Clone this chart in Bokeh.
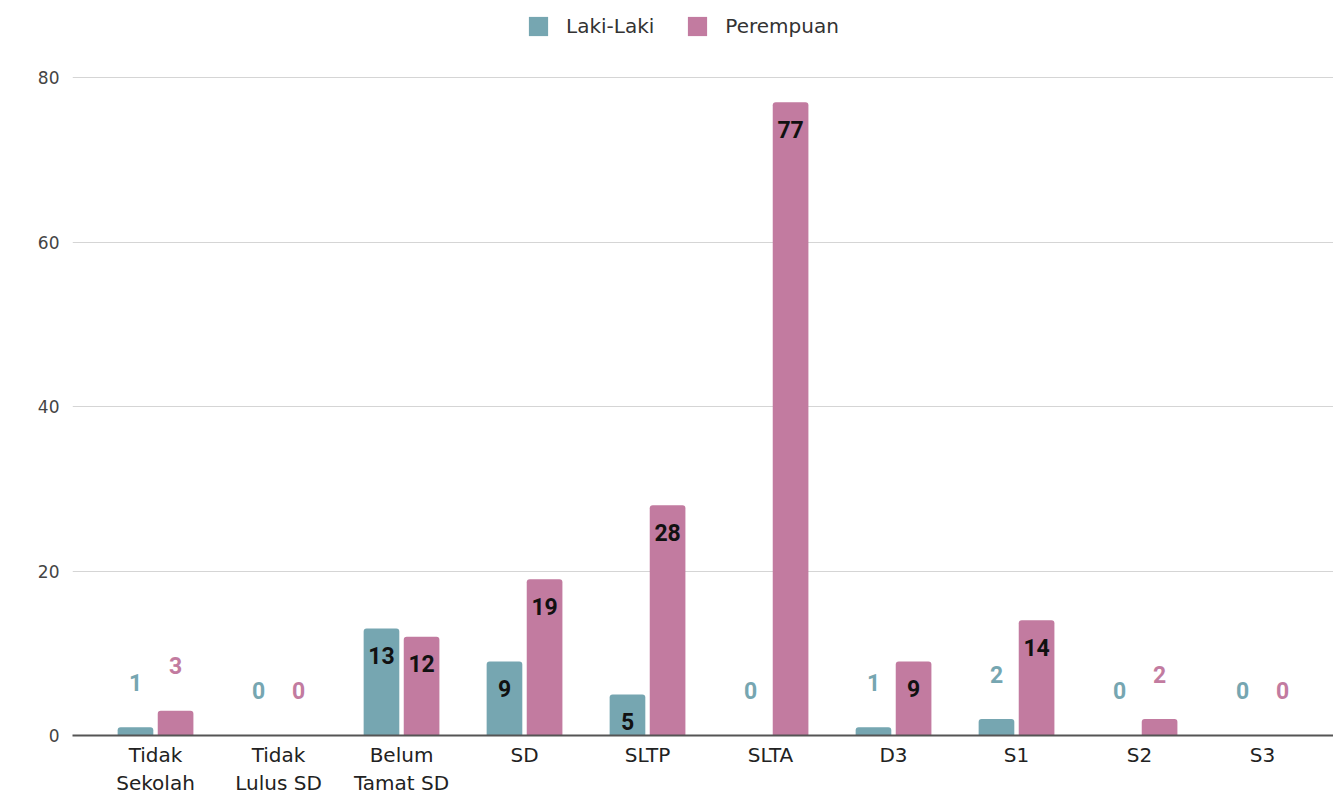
from bokeh.plotting import figure
from bokeh.models import (Range1d, FixedTicker, Legend, LegendItem, ColumnDataSource)
from bokeh.core.properties import value
from bokeh.embed import file_html
from bokeh.resources import INLINE

categories = ["Tidak Sekolah", "Tidak Lulus SD", "Belum Tamat SD", "SD", "SLTP",
              "SLTA", "D3", "S1", "S2", "S3"]
tick_labels = ["Tidak\nSekolah", "Tidak\nLulus SD", "Belum\nTamat SD", "SD", "SLTP",
               "SLTA", "D3", "S1", "S2", "S3"]
laki = [1, 0, 13, 9, 5, 0, 1, 2, 0, 0]
perempuan = [3, 0, 12, 19, 28, 77, 9, 14, 2, 0]
y_ticks = [0, 20, 40, 60, 80]

TEAL = "#76a6b1"
PINK = "#c27ba0"

p = figure(frame_width=1261, frame_height=726, output_backend="svg",
           toolbar_location=None,
           x_range=Range1d(-0.675, 9.577), y_range=Range1d(0, 88.27),
           min_border_left=72, min_border_right=0, min_border_top=9,
           min_border_bottom=50)
p.outline_line_color = None
p.background_fill_color = "white"

xs = list(range(len(categories)))
off = 0.163
bw = 0.29

src_l = ColumnDataSource(dict(x=[x - off for x in xs], top=laki))
src_p = ColumnDataSource(dict(x=[x + off for x in xs], top=perempuan))
r_l = p.vbar(x="x", top="top", width=bw, source=src_l, fill_color=TEAL,
             line_color=None, border_radius=(3, 3, 0, 0))
r_p = p.vbar(x="x", top="top", width=bw, source=src_p, fill_color=PINK,
             line_color=None, border_radius=(3, 3, 0, 0))

# data labels
def add_labels(xpos, vals, color):
    inside = dict(x=[], y=[], t=[])
    above = dict(x=[], y=[], t=[])
    for x, v in zip(xpos, vals):
        d = inside if v >= 5 else above
        d["x"].append(x)
        d["y"].append(v)
        d["t"].append(str(v))
    p.text(x="x", y="y", text="t", source=ColumnDataSource(inside),
           y_offset=27, text_align="center", text_baseline="middle",
           text_font=value("Roboto"), text_font_style="bold",
           text_font_size="23px", text_color="#111111")
    p.text(x="x", y="y", text="t", source=ColumnDataSource(above),
           y_offset=-45, text_align="center", text_baseline="middle",
           text_font=value("Roboto"), text_font_style="bold",
           text_font_size="23px", text_color=color)

add_labels([x - off for x in xs], laki, TEAL)
add_labels([x + off for x in xs], perempuan, PINK)

# axes
p.xaxis.ticker = FixedTicker(ticks=xs)
p.xaxis.major_label_overrides = {i: lab for i, lab in enumerate(tick_labels)}
p.xaxis.major_tick_line_color = None
p.xaxis.minor_tick_line_color = None
p.xaxis.axis_line_color = "#555555"
p.xaxis.axis_line_width = 2
p.xaxis.major_label_text_font = "DejaVu Sans"
p.xaxis.major_label_text_font_size = "20px"
p.xaxis.major_label_text_color = "#222222"
p.xaxis.major_label_standoff = 1

p.yaxis.ticker = FixedTicker(ticks=y_ticks)
p.yaxis.axis_line_color = None
p.yaxis.major_tick_line_color = None
p.yaxis.minor_tick_line_color = None
p.yaxis.major_label_text_font = "DejaVu Sans"
p.yaxis.major_label_text_font_size = "17px"
p.yaxis.major_label_text_color = "#444444"
p.yaxis.major_label_standoff = 7

p.xgrid.grid_line_color = None
p.ygrid.grid_line_color = "#d5d5d5"
p.ygrid.grid_line_width = 1

legend = Legend(items=[LegendItem(label="Laki-Laki", renderers=[r_l]),
                       LegendItem(label="Perempuan", renderers=[r_p])],
                orientation="horizontal", location=(454, 697),
                border_line_color=None, background_fill_alpha=0,
                glyph_width=24, glyph_height=24, label_standoff=16,
                spacing=31, padding=0, margin=0,
                label_text_font="DejaVu Sans", label_text_font_size="20px",
                label_text_color="#333333")
p.add_layout(legend)

open("out.html", "w").write(file_html(p, INLINE))
